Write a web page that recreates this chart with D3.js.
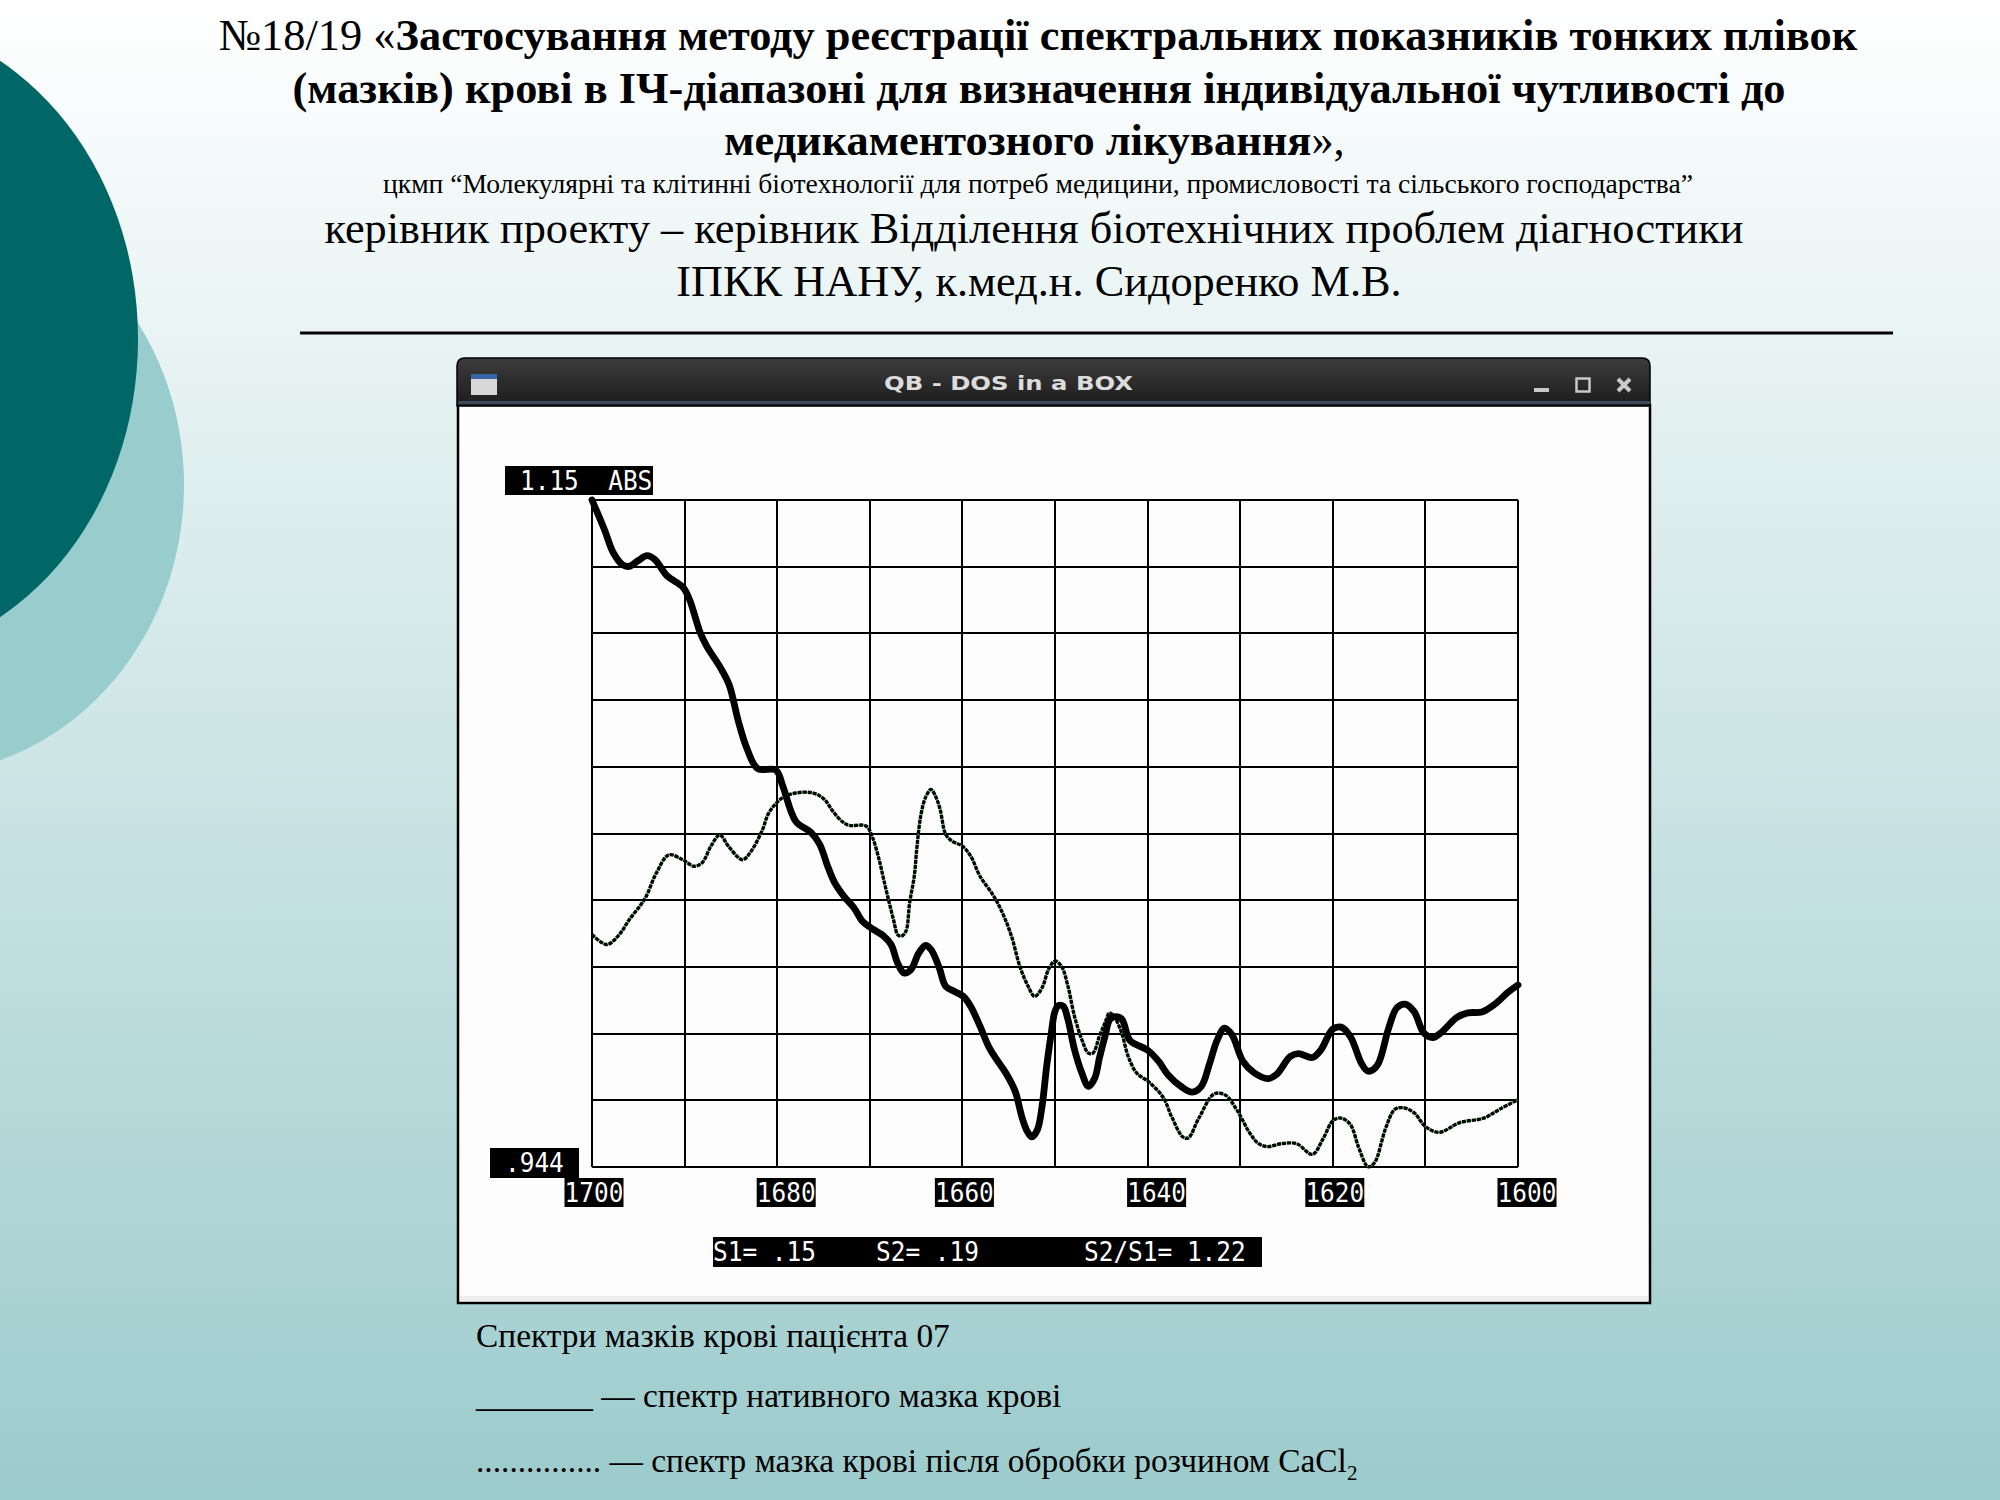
<!DOCTYPE html>
<html><head><meta charset="utf-8">
<script src="https://cdn.jsdelivr.net/npm/d3@7/dist/d3.min.js"></script>
<style>html,body{margin:0;padding:0;background:#fff}svg{display:block}</style>
</head><body><svg id="c" width="2000" height="1500" viewBox="0 0 2000 1500"></svg>
<script>
// --- chart data ---
const nativeWn = [1700,1698.65,1697.7,1696.7,1696,1695,1694.05,1693.2,1691.9,1690.2,1689.5,1688.3,1687.6,1686.15,1685.2,1684.2,1683.3,1682.1,1680.15,1679.4,1678,1676.3,1675.4,1674.55,1673.8,1672.8,1671.7,1670.8,1669.9,1668.5,1667.7,1667,1666.3,1665.6,1664.7,1664,1663.4,1662.5,1661.8,1660.9,1659.9,1659.1,1658.1,1657,1655.2,1654.3,1653.6,1653,1652.5,1651.9,1651.4,1650.9,1650.4,1650,1649.6,1649.1,1648.6,1647.9,1647.1,1646.4,1645.7,1645.2,1644.6,1644.1,1643.6,1642.8,1641.9,1640,1638.8,1637.8,1636.4,1635.2,1634.2,1633.3,1632.5,1631.7,1630.9,1629.7,1628.5,1627,1626.1,1624.6,1623.7,1622.2,1621.3,1620,1619.1,1618.1,1616.9,1616.2,1615.2,1614,1613.1,1612.2,1611.2,1610.2,1609.2,1608.3,1606.6,1605.4,1603.9,1602.5,1601.1,1600];
const nativeAbs = [1.15,1.1408,1.1337,1.13,1.1295,1.1313,1.1328,1.1316,1.1266,1.1231,1.1195,1.1089,1.1048,1.0983,1.093,1.0817,1.0735,1.067,1.0666,1.0617,1.0508,1.0472,1.0436,1.0369,1.0318,1.0276,1.024,1.0199,1.0179,1.0153,1.0127,1.007,1.0039,1.0048,1.0101,1.0124,1.0112,1.0055,.9998,.9983,.9967,.9936,.9875,.9803,.9725,.9674,.9597,.955,.9533,.9555,.9627,.9751,.9854,.9921,.9939,.9936,.9895,.9803,.973,.9689,.9715,.9777,.9844,.9895,.9904,.9897,.9831,.9801,.9766,.9725,.9689,.9671,.9689,.976,.9831,.9869,.9849,.9766,.9731,.9713,.9725,.9781,.979,.9778,.9801,.9866,.9872,.9843,.976,.9736,.9754,.9866,.9931,.9943,.9919,.9855,.984,.9855,.9902,.9916,.9919,.9943,.9979,1.0002];
const treatedWn = [1700,1698.4,1697.1,1696,1694.3,1693.1,1691.7,1690.2,1689,1688.1,1687.1,1686.2,1685.2,1683.75,1682.8,1681.6,1680.9,1679.4,1678,1676.1,1674.9,1674,1672.9,1672.2,1670.4,1669.7,1669,1668.5,1667.9,1667.4,1667,1666.6,1666.1,1665.7,1665.2,1664.9,1664.5,1664,1663.4,1662.9,1662.4,1661.8,1661.1,1660,1659.1,1658.1,1656.6,1655.6,1654.7,1653.8,1652.9,1652.2,1651.4,1650.7,1650,1649.3,1648.6,1647.9,1647.1,1646.4,1645.9,1645.2,1644.6,1644.1,1643.6,1642.8,1642.1,1641.2,1639.8,1638.3,1637.4,1636.2,1635.6,1634.5,1632.8,1631.6,1630.4,1628.9,1628,1627,1625.6,1623.9,1622.2,1621,1620,1619.1,1618.1,1617.2,1616.2,1615.5,1614.3,1613.3,1612.4,1611.2,1610,1608.5,1606.3,1603.7,1602,1600];
const treatedAbs = [1.0158,1.0127,1.0156,1.0203,1.0268,1.0345,1.0404,1.0389,1.0369,1.038,1.0434,1.0465,1.0428,1.0389,1.0416,1.0481,1.0534,1.0581,1.0595,1.0595,1.0575,1.0539,1.0505,1.0495,1.0493,1.0457,1.039,1.0328,1.0256,1.0199,1.0158,1.0153,1.0168,1.0256,1.0338,1.0431,1.0524,1.058,1.0606,1.0585,1.0544,1.0467,1.0446,1.0431,1.04,1.0338,1.0276,1.022,1.0153,1.006,.9998,.9967,.9993,1.005,1.0076,1.006,.9998,.9906,.9833,.9792,.9792,.9844,.9885,.9916,.9904,.9854,.9782,.9731,.9701,.9654,.9595,.9533,.953,.9589,.9666,.9662,.9618,.9542,.9512,.9503,.9512,.9512,.9479,.953,.9583,.9591,.9571,.95,.9441,.9453,.9559,.9618,.9623,.9607,.9565,.9547,.9577,.9591,.9618,.9648];
const xGridTicks = [1700,1690,1680,1670,1660,1650,1640,1630,1620,1610,1600];
const yGridTicks = [.944,.9646,.9852,1.0058,1.0264,1.047,1.0676,1.0882,1.1088,1.1294,1.15];
const xLabelTicks = [1700,1680,1660,1640,1620,1600];
const yTop = "1.15  ABS";
const yBottom = ".944";
const statLabels = ["S1= .15","S2= .19","S2/S1= 1.22"];
const windowTitle = "QB - DOS in a BOX";
const titleLines = [
 [["№18/19 «",400],["Застосування методу реєстрації спектральних показників тонких плівок",700]],
 [["(мазків) крові в ІЧ-діапазоні для визначення індивідуальної чутливості до",700]],
 [["медикаментозного лікування",700],["»,",400]]
];
const subLine = "цкмп “Молекулярні та клітинні біотехнології для потреб медицини, промисловості та сільського господарства”";
const leadLines = ["керівник проекту – керівник Відділення біотехнічних проблем діагностики","ІПКК НАНУ, к.мед.н. Сидоренко М.В."];
const caption = ["Спектри мазків крові пацієнта 07","_______ — спектр нативного мазка крові","............... — спектр мазка крові після обробки розчином CaCl"];

const svg = d3.select("#c");
const SERIF = "'Liberation Serif','Times New Roman',serif", MONO = "'DejaVu Sans Mono',monospace";

// background
const defs = svg.append("defs");
const bg = defs.append("linearGradient").attr("id","bg").attr("x1",0).attr("y1",0).attr("x2",0).attr("y2",1);
bg.append("stop").attr("offset",0).attr("stop-color","#ffffff");
bg.append("stop").attr("offset",1).attr("stop-color","#9ccbcc");
const tb = defs.append("linearGradient").attr("id","tb").attr("x1",0).attr("y1",0).attr("x2",0).attr("y2",1);
tb.append("stop").attr("offset",0).attr("stop-color","#3c3c3c");
tb.append("stop").attr("offset",1).attr("stop-color","#1c1c1c");
svg.append("rect").attr("width",2000).attr("height",1500).attr("fill","url(#bg)");
svg.append("ellipse").attr("cx",-85).attr("cy",485).attr("rx",269).attr("ry",290).attr("fill","#99cccc");
svg.append("ellipse").attr("cx",-135).attr("cy",339).attr("rx",273).attr("ry",320).attr("fill","#006666");

// heading
function fit(t, w){ t.attr("textLength",w).attr("lengthAdjust","spacingAndGlyphs"); }
const heads = [[219,1857,50],[295,1783,103],[726,1343,155]];
titleLines.forEach((parts,i)=>{
  const [a,b,y]=heads[i];
  const t=svg.append("text").attr("x",(a+b)/2).attr("y",y).attr("text-anchor","middle")
    .attr("font-family",SERIF).attr("font-size",44.4).attr("fill","#000");
  parts.forEach(p=>t.append("tspan").attr("font-weight",p[1]).text(p[0]));
});
svg.append("text").attr("x",1038).attr("y",193).attr("text-anchor","middle").attr("font-family",SERIF).attr("font-size",27.6).text(subLine);
leadLines.forEach((s,i)=>svg.append("text").attr("x",[1034,1039][i]).attr("y",[243,296][i]).attr("text-anchor","middle")
  .attr("font-family",SERIF).attr("font-size",44.3).text(s));
svg.append("line").attr("x1",300).attr("x2",1893).attr("y1",333).attr("y2",333).attr("stroke","#000").attr("stroke-width",3);

// window
svg.append("rect").attr("x",458).attr("y",405).attr("width",1192).attr("height",898).attr("fill","#fdfdfd").attr("stroke","#000").attr("stroke-width",2.5);
svg.append("rect").attr("x",460).attr("y",1296).attr("width",1188).attr("height",5).attr("fill","#eeeeee");
svg.append("path").attr("d","M457,406V366Q457,358 465,358H1642Q1650,358 1650,366V406Z").attr("fill","url(#tb)").attr("stroke","#000").attr("stroke-width",1.5);
svg.append("rect").attr("x",458).attr("y",401).attr("width",1192).attr("height",3).attr("fill","#3c4a5a");
svg.append("rect").attr("x",471).attr("y",374).attr("width",26).attr("height",21).attr("fill","#d8d8d8");
svg.append("rect").attr("x",471).attr("y",374).attr("width",26).attr("height",5).attr("fill","#3565a5");
fit(svg.append("text").attr("x",884).attr("y",390).attr("font-family","'DejaVu Sans',sans-serif").attr("font-weight",700).attr("font-size",20).attr("fill","#dcdcdc").text(windowTitle),249);
svg.append("rect").attr("x",1534).attr("y",388).attr("width",15).attr("height",4).attr("fill","#c8c8c8");
svg.append("rect").attr("x",1576.5).attr("y",378.5).attr("width",13).attr("height",13).attr("fill","none").attr("stroke","#c8c8c8").attr("stroke-width",2.5);
svg.append("path").attr("d","M1618,379L1630,391M1630,379L1618,391").attr("stroke","#c8c8c8").attr("stroke-width",4);

// scales
const x = d3.scaleLinear().domain([1700,1600]).range([592,1518]);
const y = d3.scaleLinear().domain([.944,1.15]).range([1167,500]);

// grid through axes
const gx = svg.append("g").attr("transform","translate(0,1167)")
  .call(d3.axisBottom(x).offset(0).tickValues(xGridTicks).tickSize(-667).tickFormat(""));
const gy = svg.append("g").attr("transform","translate(592,0)")
  .call(d3.axisLeft(y).offset(0).tickValues(yGridTicks).tickSize(-926).tickFormat(""));
[gx,gy].forEach(g=>{g.select(".domain").remove();
  g.selectAll("line").attr("stroke","#000").attr("stroke-width",2).attr("shape-rendering","crispEdges");});

// curves
const line = d3.line().x(d=>x(d[0])).y(d=>y(d[1])).curve(d3.curveCatmullRom.alpha(.5));
const nat = nativeWn.map((w,i)=>[w,nativeAbs[i]]);
const trt = treatedWn.map((w,i)=>[w,treatedAbs[i]]);
svg.append("path").attr("d",line(trt)).attr("fill","none").attr("stroke","#30e030").attr("stroke-width",1.6);
svg.append("path").attr("d",line(trt)).attr("fill","none").attr("stroke","#000").attr("stroke-width",3.4).attr("stroke-dasharray","4 1");
svg.append("path").attr("d",line(nat)).attr("fill","none").attr("stroke","#000").attr("stroke-width",6.8).attr("stroke-linejoin","round").attr("stroke-linecap","round");

// bitmap-style labels
const CH = 14.7;
function box(x0,x1,top,bottom){ return svg.append("rect").attr("x",x0).attr("y",top).attr("width",x1-x0).attr("height",bottom-top).attr("fill","#000"); }
function mono(s,x0,base){ const t=svg.append("text").attr("x",x0).attr("y",base).attr("xml:space","preserve").style("white-space","pre")
   .attr("font-family",MONO).attr("font-size",26).attr("fill","#fff").text(s); fit(t,s.length*CH); return t; }
box(505,653,466,495); mono(yTop,520,490);
box(490,579,1148,1178); mono(yBottom,505,1172);

const ax = svg.append("g").attr("transform","translate(0,1178)")
  .call(d3.axisBottom(x).offset(0).tickValues(xLabelTicks).tickSize(0).tickFormat(d3.format("d")));
ax.select(".domain").remove();
ax.selectAll(".tick").each(function(d,i){
  const g=d3.select(this), off=(i%2?9:2), w=59;
  g.selectAll("line").remove();
  g.insert("rect","text").attr("x",off-w/2).attr("y",0).attr("width",w).attr("height",29).attr("fill","#000");
  g.select("text").attr("x",off).attr("y",24).attr("dy",null).attr("text-anchor","middle").attr("font-family",MONO).attr("font-size",26).attr("fill","#fff")
    .attr("textLength",4*CH).attr("lengthAdjust","spacingAndGlyphs");
});
box(713,1262,1237,1267);
[713,876,1084].forEach((px,i)=>mono(statLabels[i],px,1261));

// caption
caption.forEach((s,i)=>{
  const t=svg.append("text").attr("x",476).attr("y",[1347,1407,1472][i]).attr("font-family",SERIF).attr("font-size",33.4).attr("fill","#000").text(s);
  if(i===2) t.append("tspan").attr("font-size",21).attr("dy",8).text("2");
});
</script></body></html>
